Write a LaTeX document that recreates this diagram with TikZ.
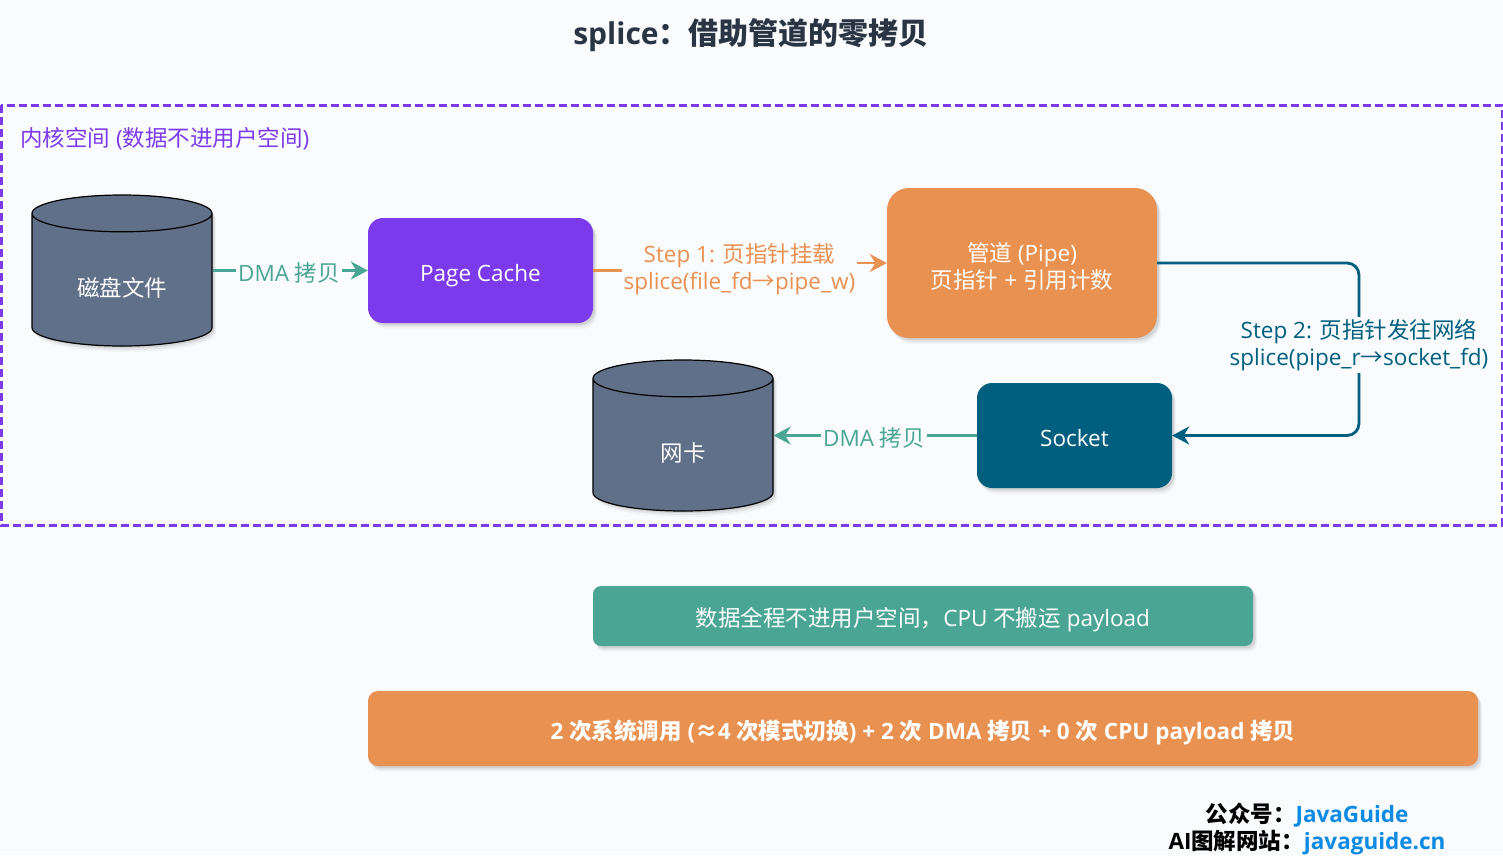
\documentclass[tikz,border=0pt]{standalone}
\usepackage{fontspec}
\setmainfont{Open Sans}
\newfontfamily\cjk{Noto Sans CJK SC}
\usetikzlibrary{arrows.meta, shapes.geometric, shadows}

\definecolor{pagebg}{HTML}{F9FBFD}
\definecolor{kernelpurple}{HTML}{7C3AED}
\definecolor{dmagreen}{HTML}{4BA595}
\definecolor{steporange}{HTML}{E99151}
\definecolor{socketteal}{HTML}{005F7F}
\definecolor{diskslate}{HTML}{5F7088}
\definecolor{titlegrey}{HTML}{2A3544}
\definecolor{linkblue}{HTML}{0D8BE4}

\tikzset{
	softshadow/.style={
		general shadow={shadow xshift=4pt, shadow yshift=-6pt, fill=black, opacity=0.03},
		general shadow={shadow xshift=3pt, shadow yshift=-4pt, fill=black, opacity=0.06},
		general shadow={shadow xshift=2pt, shadow yshift=-2pt, fill=black, opacity=0.08}},
	txt/.style={font=\fontsize{22.5}{27}\selectfont, align=center, inner sep=0pt},
	box/.style={txt, softshadow, text=white, inner sep=0pt},
	oneline/.style={text height=27pt, text depth=6pt},
	disk/.style={box, cylinder, shape border rotate=90, aspect=0.4, anchor=shape center, draw=black, line width=1.2pt,
		fill=diskslate, cylinder uses custom fill, cylinder body fill=diskslate, cylinder end fill=diskslate,
		minimum width=180pt, minimum height=151pt, text width=92pt, text height=39pt, text depth=6pt},
	link/.style={line width=2.8pt, -{Stealth[length=17pt, width=18pt, inset=5.5pt]}},
	linklabel/.style={txt, fill=pagebg, inner sep=2pt}
}

\begin{document}
\begin{tikzpicture}[x=1pt, y=-1pt]

\useasboundingbox (0,0) rectangle (1503,855);
\fill[pagebg] (0,0) rectangle (1503,855);

\node[txt, text=titlegrey, font=\fontsize{30}{36}\selectfont\bfseries] (title) at (751, 35) {splice{\cjk ：借助管道的零拷贝}};

% kernel space
\draw[kernelpurple, line width=3pt, dash pattern=on 8pt off 4pt] (1,105) rectangle (1502,525);
\node[txt, text=kernelpurple, anchor=west] (kernel) at (20, 139) {{\cjk 内核空间} ({\cjk 数据不进用户空间})};

\node[disk] (file) at (122, 270.5) {{\cjk 磁盘文件}};
\node[disk] (nic) at (683, 435.5) {{\cjk 网卡}};

\node[box, oneline, fill=kernelpurple, rounded corners=15pt, minimum width=225pt, minimum height=105pt] (cache) at (480.5, 270.5) {Page Cache};
\node[box, fill=steporange, rounded corners=22pt, minimum width=270pt, minimum height=150pt] (pipe) at (1022, 263) {\rule{0pt}{26pt}{\cjk 管道} (Pipe)\\{\cjk 页指针} + {\cjk 引用计数}};
\node[box, oneline, fill=socketteal, rounded corners=15pt, minimum width=195pt, minimum height=105pt] (socket) at (1074.5, 435.5) {Socket};

\coordinate (stepone) at (740, 266);
\coordinate (steptwo) at (1359, 344);

\draw[link, dmagreen] (file.east |- cache.west) -- (cache.west);
\draw[link, steporange] (cache.east) -| (stepone) |- (pipe.west);
\draw[link, socketteal, rounded corners=12pt] (pipe.east) -| (steptwo) |- (socket.east);
\draw[link, dmagreen] (socket.west) -- (socket.west -| nic.east);

\node[linklabel, text=dmagreen] (dmain) at (289, 273) {DMA {\cjk 拷贝}};
\node[linklabel, text=steporange] (stepa) at (739.5, 269) {Step 1: {\cjk 页指针挂载}\\splice(file\_fd{\cjk →}pipe\_w)};
\node[linklabel, text=socketteal] (stepb) at (1359, 345) {Step 2: {\cjk 页指针发往网络}\\splice(pipe\_r{\cjk →}socket\_fd)};
\node[linklabel, text=dmagreen] (dmaout) at (874, 438) {DMA {\cjk 拷贝}};

\node[box, oneline, fill=dmagreen, rounded corners=8pt, minimum width=660pt, minimum height=60pt] (nocopy) at (923, 616) {{\cjk 数据全程不进用户空间，}CPU {\cjk 不搬运} payload};
\node[box, oneline, fill=steporange, rounded corners=10pt, minimum width=1110pt, minimum height=75pt, font=\fontsize{22.5}{27}\selectfont\bfseries] (summary) at (923, 728.5) {2 {\cjk 次系统调用} ({\cjk ≈}4 {\cjk 次模式切换}) + 2 {\cjk 次} DMA {\cjk 拷贝} + 0 {\cjk 次} CPU payload {\cjk 拷贝}};

\node[txt, font=\fontsize{22.5}{27}\selectfont\bfseries] (footer) at (1307, 828.5) {{\cjk 公众号：}\textcolor{linkblue}{JavaGuide}\\AI{\cjk 图解网站：}\textcolor{linkblue}{javaguide.cn}};

\end{tikzpicture}
\end{document}
